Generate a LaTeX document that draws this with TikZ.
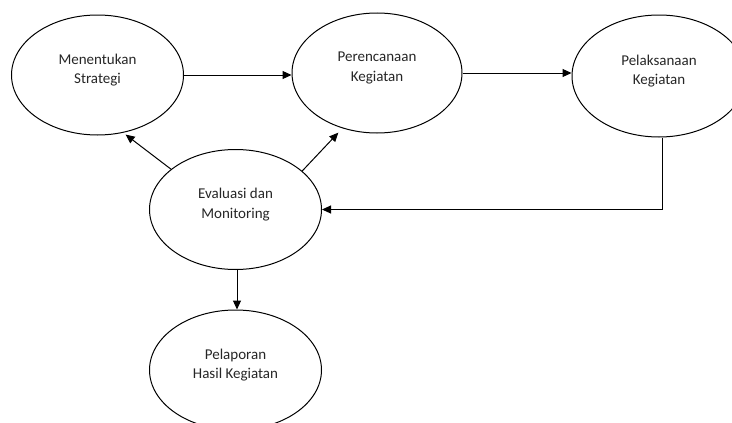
\documentclass[tikz,border=0pt]{standalone}
\usepackage{fontspec}
\setmainfont{Carlito}
\usetikzlibrary{arrows.meta,shapes.geometric}
\tikzset{
  ell/.style={draw=black, line width=1pt, ellipse, inner sep=0pt,
    minimum width=172pt, minimum height=120pt},
  lbl/.style={align=center, text=black!85, font=\fontsize{15}{19.5}\selectfont, yshift=5pt},
  arr/.style={draw=black, line width=1pt, -{Triangle[length=9pt,width=8pt]}},
}
\begin{document}
\begin{tikzpicture}[x=1pt,y=-1pt]
\useasboundingbox (0,0) rectangle (732,423);
\clip (0,0) rectangle (732,423);
\node[ell, label={[lbl]center:Menentukan\\Strategi}] (s) at (97.5,75) {};
\node[ell, minimum width=170pt, label={[lbl]center:Perencanaan\\Kegiatan}] (p) at (377,73) {};
\node[ell, minimum width=174pt, minimum height=122pt, label={[lbl]center:Pelaksanaan\\Kegiatan}] (k) at (659,76) {};
\node[ell, label={[lbl]center:Evaluasi dan\\Monitoring}] (ev) at (235.5,209.5) {};
\node[ell, label={[lbl]center:Pelaporan\\Hasil Kegiatan}] (pl) at (235.5,370) {};
\draw[arr] (s.east) -- (s.east -| p.west);
\draw[arr] (p.east) -- (p.east -| k.west);
\draw[arr, shorten >=3pt] (ev.148) -- (s.-66);
\draw[arr, shorten >=6pt] (ev.30) -- (p.-122);
\draw[arr] ([xshift=3pt]k.south) |- (ev.east);
\draw[arr] ([xshift=1.5pt]ev.south) -- ([xshift=1.5pt]pl.north);
\end{tikzpicture}
\end{document}
